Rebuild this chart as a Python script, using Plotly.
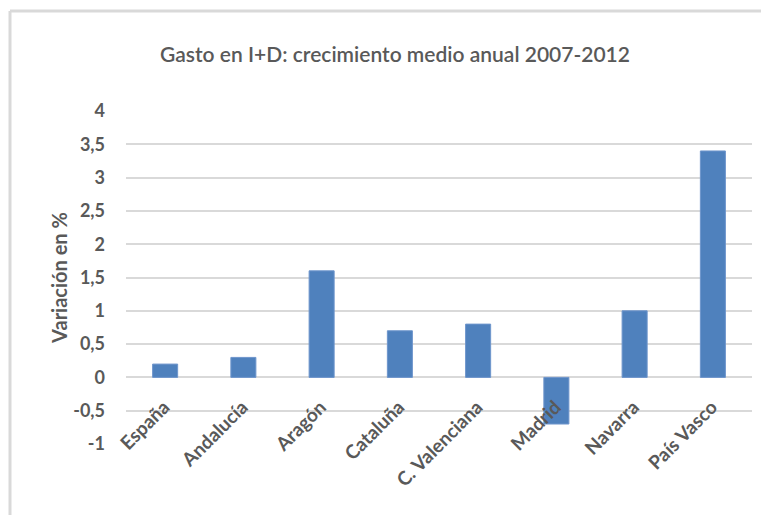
import plotly.graph_objects as go

categories = ["España", "Andalucía", "Aragón", "Cataluña", "C. Valenciana",
              "Madrid", "Navarra", "País Vasco"]
values = [0.2, 0.3, 1.6, 0.7, 0.8, -0.7, 1.0, 3.4]
y_ticks = [-1, -0.5, 0, 0.5, 1, 1.5, 2, 2.5, 3, 3.5, 4]
y_tick_text = ["-1", "-0,5", "0", "0,5", "1", "1,5", "2", "2,5", "3", "3,5", "4"]

FONT = "Lato"
GRAY = "#595959"

# page body has an 8px margin, so the figure is drawn 8px in from the window edge
OFF = 8
W, H = 769 - OFF, 515 - OFF
L, R, T, B = 126 - OFF, 17, 111 - OFF, 71
PW, PH = W - L - R, H - T - B

fig = go.Figure(go.Bar(
    x=categories, y=values, width=0.32,
    marker=dict(color="#4F81BD", line=dict(color="#6E95CC", width=1)),
))

frame_top = 1 + (111 - 11) / PH
frame_left = -(126 - 10) / PW

fig.update_layout(
    width=W, height=H,
    paper_bgcolor="white", plot_bgcolor="white",
    margin=dict(l=L, r=R, t=T, b=B),
    showlegend=False,
    font=dict(family=FONT, color=GRAY, size=16),
    title=dict(
        text="Gasto en I+D: crecimiento medio anual 2007-2012",
        font=dict(family=FONT, size=21, color=GRAY, weight=600),
        xref="container", x=(395 - OFF) / W, xanchor="center",
        yref="container", y=1 - (55 - OFF) / H, yanchor="middle",
    ),
    xaxis=dict(
        anchor="free", position=0.2,
        tickangle=-45, showline=False, ticks="",
        ticklabelstandoff=14, ticklabelshift=-1,
        tickfont=dict(family=FONT, size=19, color=GRAY, weight=700),
        showgrid=False, zeroline=False,
    ),
    yaxis=dict(
        range=[-1, 4], tickvals=y_ticks, ticktext=y_tick_text,
        showgrid=True, gridcolor="#D9D9D9", gridwidth=2,
        zeroline=True, zerolinecolor="#D9D9D9", zerolinewidth=2,
        showline=False, ticks="", ticklabelstandoff=20,
        tickfont=dict(family=FONT, size=18, color=GRAY, weight=700),
        title=dict(text="Variación en %", standoff=0,
                   font=dict(family=FONT, size=20, color=GRAY, weight=700)),
    ),
    shapes=[
        dict(type="line", xref="paper", yref="paper",
             x0=frame_left, x1=1.2, y0=frame_top, y1=frame_top,
             line=dict(color="#D9D9D9", width=3)),
        dict(type="line", xref="paper", yref="paper",
             x0=frame_left, x1=frame_left, y0=frame_top, y1=-0.4,
             line=dict(color="#D9D9D9", width=3)),
    ],
)

fig.write_html("out.html")
